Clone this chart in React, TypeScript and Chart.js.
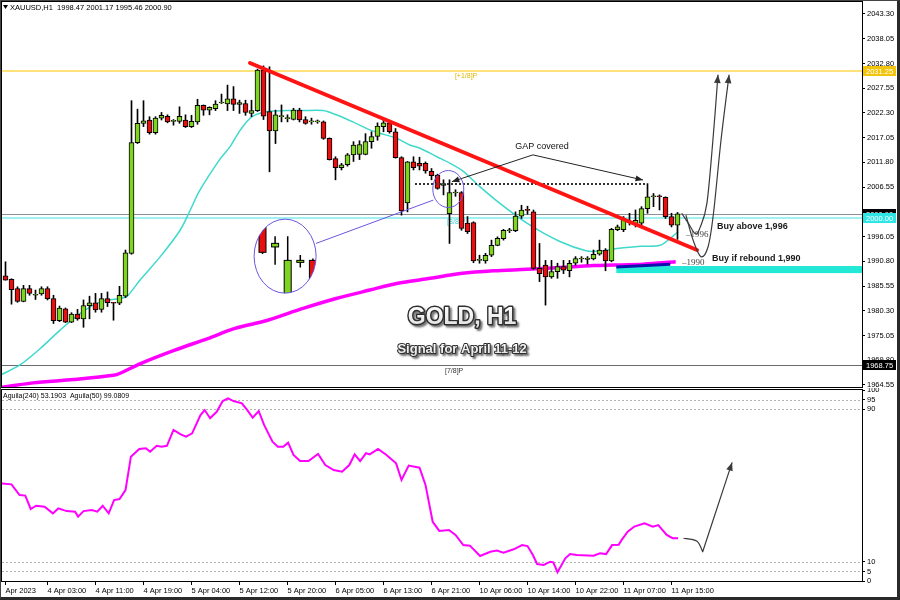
import React, { useEffect, useRef } from "react";
import { Chart, registerables } from "chart.js";

Chart.register(...registerables);

// ---------------- data ----------------
const OPEN = [
  1987.7, 1987.0, 1985.0, 1982.3, 1985.0, 1983.6, 1983.9, 1985.0, 1982.9, 1978.2,
  1980.7, 1977.9, 1979.6, 1978.6, 1981.4, 1982.0, 1980.6, 1982.9, 1982.0, 1981.9,
  1983.4, 1992.5, 2016.0, 2020.1, 2020.8, 2018.1, 2021.2, 2021.6, 2020.5, 2020.5,
  2020.8, 2019.4, 2020.4, 2023.9, 2022.9, 2023.2, 2024.4, 2024.2, 2025.3, 2024.1,
  2024.3, 2022.2, 2022.8, 2031.4, 2022.6, 2018.5, 2021.5, 2021.1, 2020.9, 2022.9,
  2020.9, 2020.4, 2020.4, 2020.4, 2016.9, 2012.6, 2010.7, 2011.3, 2013.4, 2013.5,
  2013.5, 2016.2, 2017.3, 2019.4, 2020.2, 2018.3, 2012.8, 2003.2, 2011.9, 2011.6,
  2011.6, 2009.9, 2009.1, 2006.9, 2000.9, 2005.3, 2005.4, 1998.9, 1999.0, 1991.0,
  1990.9, 1992.1, 1994.2, 1995.6, 1997.3, 1997.3, 2000.4, 2001.7, 2001.3, 1989.3,
  1990.0, 1987.5, 1988.6, 1989.7, 1988.8, 1990.4, 1991.3, 1991.2, 1991.3, 1992.3,
  1993.2, 1990.9, 1997.5, 1997.5, 1999.0, 1998.7, 1998.9, 2002.0, 2004.5, 2004.6,
  2004.4, 2000.3, 1998.47,
];
const HIGH = [
  1990.7, 1987.1, 1985.4, 1985.7, 1985.7, 1984.7, 1985.4, 1985.4, 1983.6, 1981.3,
  1980.9, 1979.9, 1980.6, 1982.6, 1983.4, 1984.0, 1984.0, 1984.3, 1982.1, 1985.5,
  1993.2, 2024.9, 2023.1, 2024.9, 2021.5, 2021.5, 2022.4, 2021.9, 2020.9, 2023.6,
  2021.9, 2021.8, 2025.2, 2024.0, 2023.6, 2024.9, 2026.3, 2028.2, 2027.9, 2025.0,
  2025.0, 2025.0, 2031.6, 2032.3, 2032.1, 2022.9, 2024.0, 2021.9, 2023.3, 2023.3,
  2021.5, 2021.2, 2020.8, 2020.6, 2017.0, 2013.0, 2011.6, 2013.7, 2016.2, 2016.4,
  2017.9, 2018.3, 2020.2, 2020.8, 2020.7, 2019.0, 2013.0, 2012.0, 2013.0, 2012.9,
  2011.9, 2010.5, 2009.3, 2008.1, 2008.1, 2006.0, 2005.6, 2000.3, 1999.2, 1992.1,
  1992.5, 1995.3, 1996.0, 1997.6, 1997.8, 2001.3, 2002.7, 2002.5, 2001.7, 1994.6,
  1991.0, 1991.0, 1990.4, 1991.0, 1991.0, 1991.8, 1991.8, 1991.8, 1993.2, 1995.3,
  1993.5, 1997.8, 1998.5, 2000.3, 2001.0, 2001.7, 2002.4, 2007.3, 2005.2, 2004.9,
  2004.5, 2001.0, 2001.17,
];
const LOW = [
  1986.8, 1981.7, 1982.1, 1982.2, 1983.6, 1982.7, 1983.6, 1982.6, 1977.6, 1978.0,
  1977.8, 1977.8, 1978.3, 1976.8, 1978.6, 1980.0, 1980.0, 1981.2, 1978.3, 1981.6,
  1983.1, 1992.3, 2015.8, 2019.4, 2017.8, 2017.8, 2020.8, 2020.2, 2019.7, 2020.1,
  2019.2, 2019.2, 2019.9, 2021.8, 2021.9, 2022.8, 2024.3, 2022.8, 2022.8, 2022.2,
  2021.8, 2021.5, 2022.6, 2020.9, 2009.8, 2015.8, 2020.4, 2020.4, 2020.8, 2020.4,
  2019.9, 2019.9, 2020.1, 2016.7, 2012.3, 2008.1, 2010.2, 2011.0, 2012.0, 2012.4,
  2013.4, 2014.8, 2016.5, 2018.3, 2018.0, 2012.7, 2000.6, 2001.3, 2010.2, 2010.2,
  2009.5, 2008.1, 2006.1, 2004.9, 1994.6, 2004.6, 1997.4, 1996.7, 1990.5, 1990.4,
  1990.4, 1991.8, 1994.1, 1995.3, 1996.9, 1997.1, 1999.9, 2000.8, 1989.1, 1986.5,
  1981.5, 1987.2, 1987.2, 1988.2, 1987.5, 1990.0, 1990.6, 1990.2, 1991.1, 1992.1,
  1988.8, 1990.7, 1997.3, 1997.1, 1998.5, 1998.1, 1998.5, 2001.0, 2002.4, 2001.7,
  1999.9, 1998.1, 1995.46,
];
const CLOSE = [
  1986.8, 1984.8, 1982.3, 1985.0, 1984.0, 1983.8, 1985.0, 1982.9, 1978.2, 1980.9,
  1977.9, 1979.6, 1978.6, 1981.4, 1982.0, 1980.5, 1982.9, 1982.0, 1981.9, 1983.6,
  1992.6, 2016.0, 2020.1, 2020.6, 2018.1, 2021.2, 2021.8, 2020.4, 2020.6, 2021.6,
  2019.4, 2020.5, 2023.9, 2022.9, 2023.5, 2024.2, 2024.5, 2025.3, 2024.1, 2024.5,
  2022.4, 2022.8, 2031.4, 2021.6, 2018.5, 2021.9, 2021.6, 2021.2, 2022.9, 2020.8,
  2020.1, 2020.5, 2020.4, 2016.9, 2012.4, 2010.7, 2011.3, 2013.4, 2015.5, 2015.6,
  2016.2, 2017.3, 2019.5, 2020.2, 2018.3, 2012.8, 2001.5, 2011.9, 2010.7, 2011.0,
  2010.0, 2009.0, 2006.3, 2007.3, 2005.4, 2005.4, 1997.8, 1997.1, 1990.9, 1991.1,
  1992.1, 1994.2, 1995.7, 1997.4, 1997.4, 2000.4, 2001.7, 2001.6, 1989.3, 1988.2,
  1987.5, 1988.6, 1989.7, 1988.9, 1990.4, 1991.4, 1991.3, 1991.5, 1992.3, 1993.2,
  1990.9, 1997.6, 1998.1, 1999.7, 1999.1, 1999.5, 2002.0, 2004.5, 2004.6, 2004.5,
  2000.3, 1998.5, 2000.90,
];

// fast moving average (cyan), read at bar positions
const MA_FAST_X = [-0.9, 2.4, 5.8, 9.1, 12.4, 15.8, 19.0, 20.2, 22.4, 25.8, 29.1, 30.8, 32.4, 35.8, 37.4, 39.1,
  41.1, 43.7, 46.8, 49.6, 52.9, 55.1, 57.9, 60.7, 62.4, 65.2, 67.4, 69.1, 71.9, 74.1, 76.3, 79.1, 82.4, 86.9,
  92.4, 96.9, 99.1, 101.9, 105.8, 109.1, 111.3, 112.1];
const MA_FAST_Y = [1966.6, 1968.8, 1972.3, 1976.2, 1979.7, 1982.2, 1982.9, 1983.3, 1986.8, 1991.8, 1997.4, 2001.7,
  2005.9, 2012.6, 2015.1, 2018.6, 2021.5, 2022.6, 2022.8, 2022.8, 2022.8, 2021.9, 2020.4, 2018.7, 2018.0, 2016.9,
  2015.5, 2014.8, 2013.0, 2011.6, 2009.9, 2006.6, 2003.1, 1998.9, 1995.0, 1993.0, 1993.0, 1993.5, 1994.0, 1994.2,
  1996.2, 1997.1];

// slow moving average (magenta)
const MA_SLOW_X = [-0.9, 4.6, 11.3, 18.0, 19.2, 22.5, 28.1, 33.7, 38.1, 43.7, 49.6, 55.1, 60.7, 65.2, 70.8, 75.8,
  81.3, 86.9, 92.4, 98.1, 101.3, 106.3, 111.7];
const MA_SLOW_Y = [1964.0, 1965.0, 1965.7, 1966.6, 1967.1, 1969.1, 1971.9, 1974.4, 1976.5, 1978.3, 1980.8, 1982.9,
  1984.7, 1986.1, 1987.2, 1988.2, 1988.8, 1989.1, 1989.5, 1989.9, 1990.0, 1990.2, 1990.7];

// Aguila oscillator (lower panel)
const IND_X = [-0.9, 1.0, 2.35, 3.3, 4.2, 5.1, 6.5, 7.9, 8.8, 10.2, 11.6, 12.1, 13.0, 14.4, 15.3, 16.2, 17.2, 18.1,
  19.0, 20.0, 20.9, 22.3, 23.4, 24.1, 25.2, 26.0, 26.9, 28.0, 29.2, 30.1, 31.1, 32.5, 33.2, 34.1, 35.2, 36.2, 37.1,
  38.0, 39.4, 40.3, 41.2, 42.2, 43.1, 44.5, 45.4, 46.3, 47.1, 48.0, 49.1, 50.5, 52.1, 53.3, 54.7, 56.1, 57.3, 58.2,
  59.1, 60.1, 60.7, 62.1, 63.5, 65.1, 66.0, 67.2, 69.0, 70.0, 71.2, 72.3, 73.9, 75.0, 76.3, 77.4, 79.1, 80.8, 81.9,
  83.0, 84.7, 86.1, 87.0, 87.9, 88.6, 89.7, 90.8, 91.3, 92.0, 93.3, 94.1, 95.2, 98.0, 99.1, 100.1, 101.1, 102.2,
  102.7, 103.7, 104.8, 106.5, 107.9, 108.8, 110.2, 111.2, 112.1];
const IND_Y = [51.2, 50.6, 45.0, 44.7, 37.7, 39.4, 38.9, 35.4, 38.0, 36.6, 36.3, 33.7, 36.6, 37.2, 36.3, 39.4, 35.4,
  42.4, 42.9, 47.6, 65.1, 69.1, 69.5, 67.7, 70.8, 70.3, 70.8, 79.1, 76.8, 75.6, 77.3, 86.9, 89.5, 85.2, 88.6, 94.2,
  95.6, 94.2, 93.0, 89.5, 85.5, 89.0, 81.7, 72.9, 70.3, 70.3, 72.4, 66.0, 62.8, 62.8, 66.5, 60.7, 58.1, 57.2, 60.7,
  66.3, 62.8, 66.9, 66.3, 69.1, 66.0, 61.6, 52.9, 60.4, 59.3, 50.3, 31.0, 26.2, 26.7, 24.1, 18.8, 18.5, 13.1, 15.3,
  15.9, 14.8, 16.6, 18.8, 18.3, 13.6, 8.9, 8.4, 10.1, 9.8, 4.6, 11.9, 14.1, 13.6, 13.2, 14.5, 14.1, 18.8, 19.0,
  21.5, 25.8, 28.5, 30.2, 28.4, 29.3, 24.1, 22.4, 22.4];

const PRICE_TICKS = [2043.30, 2038.05, 2032.80, 2027.55, 2022.30, 2017.05, 2011.80, 2006.55, 2001.30, 1996.05,
  1990.80, 1985.55, 1980.30, 1975.05, 1969.80, 1964.55];
const IND_TICKS = [100, 95, 90, 10, 5, 0];
const IND_DOTTED = [95, 90, 10, 5];
const TIME_TICK_INDEX = [0, 7, 15, 23, 31, 39, 47, 55, 63, 71, 79, 87, 95, 103, 111];
const TIME_TICK_LABELS = ["Apr 2023", "4 Apr 03:00", "4 Apr 11:00", "4 Apr 19:00", "5 Apr 04:00", "5 Apr 12:00",
  "5 Apr 20:00", "6 Apr 05:00", "6 Apr 13:00", "6 Apr 21:00", "10 Apr 06:00", "10 Apr 14:00", "10 Apr 22:00",
  "11 Apr 07:00", "11 Apr 15:00"];

// levels & annotations (bar index, price)
const LEVEL_YELLOW = 2031.25;
const LEVEL_BID = 2000.90;
const LEVEL_CYAN = 2000.00;
const LEVEL_LOW = 1968.75;
const ZONE = [101.8, 142.75, 1989.8, 1988.3];
const BLUE_SEG = [[101.8, 1989.6], [110.8, 1990.2]];
const TREND = [[40.75, 2032.9], [115.25, 1993.2]];
const GAP_DOTS = [68.25, 106.75, 2007.2];
const GAP_TEXT = [89.4, 2015.2];
const GAP_APEX = [87.9, 2013.4];
const GAP_LEFT = [74.4, 2007.7];
const GAP_RIGHT = [106.25, 2008.06];
const SMALL_RING = [73.8, 2006.15];
const BIG_RING = [46.6, 1991.9];
const RING_LINK = [[51.75, 1994.6], [71.3, 2003.8]];
const ZOOM_BARS = [72, 73, 74, 75, 76];
const ZOOM_ANCHOR = [73, 2007.1];
const CURVE_INNER = [[112.7, 2001.0], [113.8, 1998.9], [115.0, 1996.6], [115.8, 1998.1], [116.9, 2003.1],
  [117.9, 2016.5], [118.75, 2030.4]];
const CURVE_OUTER = [[113.4, 2000.6], [114.6, 1995.3], [115.9, 1991.8], [117.1, 1993.9], [118.0, 2001.0],
  [119.25, 2016.5], [120.6, 2030.4]];
const LOWER_ARROW = [[113.0, 22.4], [115.2, 20.9], [116.2, 15.3], [121.1, 62.1]];

const X_MIN = -0.5833;
const X_MAX = 142.75;
const FONT = "'Liberation Sans', Arial, sans-serif";
const GREEN = "#7fd321";
const RED = "#e61010";

// ---------------- helpers ----------------
function catmull(ctx: any, pts: any[]) {
  ctx.moveTo(pts[0].x, pts[0].y);
  for (let k = 0; k < pts.length - 1; k++) {
    const p0 = pts[Math.max(k - 1, 0)], p1 = pts[k], p2 = pts[k + 1], p3 = pts[Math.min(k + 2, pts.length - 1)];
    ctx.bezierCurveTo(p1.x + (p2.x - p0.x) / 6, p1.y + (p2.y - p0.y) / 6,
      p2.x - (p3.x - p1.x) / 6, p2.y - (p3.y - p1.y) / 6, p2.x, p2.y);
  }
}
function arrowHead(ctx: any, tip: any, from: any, size: number, color: string) {
  const a = Math.atan2(tip.y - from.y, tip.x - from.x);
  ctx.beginPath();
  ctx.moveTo(tip.x, tip.y);
  ctx.lineTo(tip.x - size * Math.cos(a - 0.38), tip.y - size * Math.sin(a - 0.38));
  ctx.lineTo(tip.x - size * Math.cos(a + 0.38), tip.y - size * Math.sin(a + 0.38));
  ctx.closePath();
  ctx.fillStyle = color;
  ctx.fill();
}
function emboss(ctx: any, text: string, x: number, y: number, size: number) {
  ctx.save();
  ctx.font = `bold ${size}px ${FONT}`;
  ctx.textAlign = "center";
  ctx.textBaseline = "middle";
  ctx.lineJoin = "round";
  ctx.shadowColor = "rgba(0,0,0,0.55)";
  ctx.shadowOffsetX = 2;
  ctx.shadowOffsetY = 2;
  ctx.shadowBlur = 2;
  ctx.strokeStyle = "#2e2e2e";
  ctx.lineWidth = Math.max(2, size / 8);
  ctx.strokeText(text, x, y);
  ctx.restore();
  ctx.save();
  ctx.font = `bold ${size}px ${FONT}`;
  ctx.textAlign = "center";
  ctx.textBaseline = "middle";
  const g = ctx.createLinearGradient(0, y - size / 2, 0, y + size / 2);
  g.addColorStop(0, "#ffffff");
  g.addColorStop(1, "#dcdcdc");
  ctx.fillStyle = g;
  ctx.fillText(text, x, y);
  ctx.restore();
}
function priceBox(ctx: any, y: number, text: string, bg: string, fg: string) {
  ctx.fillStyle = bg;
  ctx.fillRect(863, Math.round(y) - 5, 33, 10);
  ctx.fillStyle = fg;
  ctx.font = `7.5px ${FONT}`;
  ctx.textAlign = "left";
  ctx.textBaseline = "middle";
  ctx.fillText(text, 866, Math.round(y) + 0.5);
}

const topDecor = {
  id: "topDecor",
  beforeDatasetsDraw(chart: any) {
    const { ctx, chartArea: a, scales } = chart;
    const X = (v: number) => scales.x.getPixelForValue(v);
    const Y = (p: number) => scales.y.getPixelForValue(p);
    ctx.save();
    ctx.beginPath();
    ctx.rect(a.left, a.top, a.right - a.left, a.bottom - a.top);
    ctx.clip();
    // support zone
    ctx.fillStyle = "#22e8d6";
    ctx.fillRect(X(ZONE[0]), Y(ZONE[2]), X(ZONE[1]) - X(ZONE[0]), Y(ZONE[3]) - Y(ZONE[2]));
    const hline = (p: number, color: string, w: number) => {
      ctx.beginPath();
      ctx.strokeStyle = color;
      ctx.lineWidth = w;
      const y = Math.round(Y(p)) + (w % 2 ? 0.5 : 0);
      ctx.moveTo(a.left, y);
      ctx.lineTo(a.right, y);
      ctx.stroke();
    };
    hline(LEVEL_YELLOW, "#ffe27a", 2);
    hline(LEVEL_BID, "#8a8f99", 1);
    hline(LEVEL_CYAN, "#9ef2f2", 2);
    hline(LEVEL_LOW, "#6b6b6b", 1);
    ctx.font = `7px ${FONT}`;
    ctx.textAlign = "left";
    ctx.textBaseline = "middle";
    ctx.fillStyle = "#e2b400";
    ctx.fillText("[+1/8]P", X(74.9), Y(LEVEL_YELLOW) + 5);
    ctx.fillStyle = "#36d6d6";
    ctx.fillText("[8/8]P", X(73.6), Y(LEVEL_CYAN) + 4);
    ctx.fillStyle = "#333";
    ctx.fillText("[7/8]P", X(73.25), Y(LEVEL_LOW) + 6);
    ctx.restore();
  },
  afterDatasetsDraw(chart: any) {
    const { ctx, chartArea: a, scales } = chart;
    const X = (v: number) => scales.x.getPixelForValue(v);
    const Y = (p: number) => scales.y.getPixelForValue(p);
    const P = (q: number[]) => ({ x: X(q[0]), y: Y(q[1]) });
    ctx.save();
    ctx.beginPath();
    ctx.rect(a.left, a.top, a.right - a.left, a.bottom - a.top);
    ctx.clip();

    // blue segment on the slow MA
    ctx.beginPath();
    ctx.strokeStyle = "#1010b0";
    ctx.lineWidth = 3;
    ctx.moveTo(P(BLUE_SEG[0]).x, P(BLUE_SEG[0]).y);
    ctx.lineTo(P(BLUE_SEG[1]).x, P(BLUE_SEG[1]).y);
    ctx.stroke();

    // dotted gap line
    ctx.beginPath();
    ctx.setLineDash([2, 2]);
    ctx.strokeStyle = "#333";
    ctx.lineWidth = 2;
    ctx.moveTo(X(GAP_DOTS[0]), Math.round(Y(GAP_DOTS[2])));
    ctx.lineTo(X(GAP_DOTS[1]), Math.round(Y(GAP_DOTS[2])));
    ctx.stroke();
    ctx.setLineDash([]);

    // red trend line
    ctx.beginPath();
    ctx.strokeStyle = "#ff1414";
    ctx.lineWidth = 4;
    ctx.lineCap = "round";
    ctx.moveTo(P(TREND[0]).x, P(TREND[0]).y);
    ctx.lineTo(P(TREND[1]).x, P(TREND[1]).y);
    ctx.stroke();
    ctx.lineCap = "butt";

    // GAP covered
    const apex = P(GAP_APEX), gl = P(GAP_LEFT), gr = P(GAP_RIGHT);
    ctx.strokeStyle = "#222";
    ctx.lineWidth = 1;
    ctx.beginPath();
    ctx.moveTo(apex.x, apex.y);
    ctx.lineTo(gl.x, gl.y);
    ctx.moveTo(apex.x, apex.y);
    ctx.lineTo(gr.x, gr.y);
    ctx.stroke();
    arrowHead(ctx, gl, apex, 8, "#222");
    arrowHead(ctx, gr, apex, 8, "#222");
    ctx.font = `9px ${FONT}`;
    ctx.fillStyle = "#111";
    ctx.textAlign = "center";
    ctx.textBaseline = "middle";
    ctx.fillText("GAP covered", X(GAP_TEXT[0]), Y(GAP_TEXT[1]));

    // rings and link
    const sr = P(SMALL_RING), br = P(BIG_RING);
    const l0 = P(RING_LINK[0]), l1 = P(RING_LINK[1]);
    ctx.strokeStyle = "#6a55e0";
    ctx.lineWidth = 1;
    ctx.beginPath();
    ctx.moveTo(l0.x, l0.y);
    ctx.lineTo(l1.x, l1.y);
    ctx.stroke();
    ctx.beginPath();
    ctx.ellipse(sr.x, sr.y, 15.5, 18.5, 0, 0, Math.PI * 2);
    ctx.stroke();

    // magnified inset
    ctx.save();
    ctx.beginPath();
    ctx.ellipse(br.x, br.y, 31, 37, 0, 0, Math.PI * 2);
    ctx.fillStyle = "#fff";
    ctx.fill();
    ctx.clip();
    const ax = X(ZOOM_ANCHOR[0]), ay = Y(ZOOM_ANCHOR[1]);
    const ox = br.x - 10, oy = br.y - 11;
    const M = (i: number, p: number) => ({ x: ox + 2.1 * (X(i) - ax), y: oy + 1.9 * (Y(p) - ay) });
    for (const i of ZOOM_BARS) {
      const hi = M(i, HIGH[i]), lo = M(i, LOW[i]);
      ctx.beginPath();
      ctx.strokeStyle = "#000";
      ctx.lineWidth = 1.5;
      ctx.moveTo(hi.x, hi.y);
      ctx.lineTo(lo.x, lo.y);
      ctx.stroke();
      const t = M(i, Math.max(OPEN[i], CLOSE[i])), b = M(i, Math.min(OPEN[i], CLOSE[i]));
      const h = Math.max(2, b.y - t.y);
      ctx.fillStyle = CLOSE[i] >= OPEN[i] ? GREEN : RED;
      ctx.fillRect(t.x - 3.5, t.y, 7, h);
      ctx.lineWidth = 1;
      ctx.strokeRect(t.x - 3.5, t.y, 7, h);
    }
    ctx.restore();
    ctx.strokeStyle = "#6a55e0";
    ctx.lineWidth = 1;
    ctx.beginPath();
    ctx.ellipse(br.x, br.y, 31, 37, 0, 0, Math.PI * 2);
    ctx.stroke();

    // hand-drawn scenario arrows
    for (const c of [CURVE_INNER, CURVE_OUTER]) {
      const pts = c.map(P);
      ctx.beginPath();
      ctx.strokeStyle = "#3a3a3a";
      ctx.lineWidth = 1.2;
      catmull(ctx, pts);
      ctx.stroke();
      arrowHead(ctx, pts[pts.length - 1], pts[pts.length - 2], 9, "#3a3a3a");
    }

    // level labels
    ctx.font = `9px 'Liberation Serif', 'Times New Roman', serif`;
    ctx.fillStyle = "#444";
    ctx.textAlign = "left";
    ctx.textBaseline = "middle";
    ctx.fillText("\u20131996", X(113.4), Y(1996.4));
    ctx.fillText("\u20131990", X(112.75), Y(1990.5));
    ctx.font = `bold 9px ${FONT}`;
    ctx.fillStyle = "#1a1a1a";
    ctx.fillText("Buy above 1,996", X(118.6), Y(1998.1));
    ctx.fillText("Buy if rebound 1,990", X(117.75), Y(1991.3));
    ctx.restore();

    // title
    emboss(ctx, "GOLD, H1", X(76.1), Y(1978.8), 23);
    emboss(ctx, "Signal for April 11-12", X(76.1), Y(1972.0), 13);
  },
  afterDraw(chart: any) {
    const { ctx, chartArea: a, scales } = chart;
    const Y = (p: number) => scales.y.getPixelForValue(p);
    ctx.save();
    ctx.strokeStyle = "#000";
    ctx.lineWidth = 1;
    ctx.strokeRect(a.left - 0.5, a.top - 0.5, a.right - a.left + 1, a.bottom - a.top + 1);
    priceBox(ctx, Y(LEVEL_YELLOW), "2031.25", "#f2c40c", "#fff");
    priceBox(ctx, Y(LEVEL_BID), "2000.90", "#000", "#fff");
    priceBox(ctx, Y(LEVEL_CYAN), "2000.00", "#2ee6e6", "#fff");
    priceBox(ctx, Y(LEVEL_LOW), "1968.75", "#000", "#fff");
    // header
    ctx.fillStyle = "#000";
    ctx.beginPath();
    ctx.moveTo(3, 5);
    ctx.lineTo(8, 5);
    ctx.lineTo(5.5, 9);
    ctx.closePath();
    ctx.fill();
    ctx.font = `7.5px ${FONT}`;
    ctx.textAlign = "left";
    ctx.textBaseline = "middle";
    ctx.fillText("XAUUSD,H1  1998.47 2001.17 1995.46 2000.90", 10, 7.5);
    ctx.restore();
  },
};

const bottomDecor = {
  id: "bottomDecor",
  beforeDatasetsDraw(chart: any) {
    const { ctx, chartArea: a, scales } = chart;
    ctx.save();
    ctx.strokeStyle = "#b4b4b4";
    ctx.lineWidth = 1;
    ctx.setLineDash([2, 2]);
    for (const v of IND_DOTTED) {
      const y = Math.round(scales.y.getPixelForValue(v)) + 0.5;
      ctx.beginPath();
      ctx.moveTo(a.left, y);
      ctx.lineTo(a.right, y);
      ctx.stroke();
    }
    ctx.restore();
  },
  afterDatasetsDraw(chart: any) {
    const { ctx, scales } = chart;
    const P = (q: number[]) => ({ x: scales.x.getPixelForValue(q[0]), y: scales.y.getPixelForValue(q[1]) });
    const pts = LOWER_ARROW.map(P);
    ctx.save();
    ctx.strokeStyle = "#3a3a3a";
    ctx.lineWidth = 1.2;
    ctx.lineJoin = "round";
    ctx.beginPath();
    catmull(ctx, pts.slice(0, 3));
    ctx.lineTo(pts[3].x, pts[3].y);
    ctx.stroke();
    arrowHead(ctx, pts[3], pts[2], 9, "#3a3a3a");
    ctx.restore();
  },
  afterDraw(chart: any) {
    const { ctx, chartArea: a } = chart;
    ctx.save();
    ctx.strokeStyle = "#000";
    ctx.lineWidth = 1;
    ctx.strokeRect(a.left - 0.5, a.top - 0.5, a.right - a.left + 1, a.bottom - a.top + 1);
    ctx.fillStyle = "#000";
    ctx.font = `7px ${FONT}`;
    ctx.textAlign = "left";
    ctx.textBaseline = "middle";
    ctx.fillText("Aguila(240) 53.1903  Aguila(50) 99.0809", 3, a.top + 6);
    ctx.restore();
  },
};

const zeroPad = (ax: any) => {
  ax.paddingTop = 0;
  ax.paddingBottom = 0;
  ax.paddingLeft = 0;
  ax.paddingRight = 0;
};

export default function App() {
  const topRef = useRef<HTMLCanvasElement>(null);
  const botRef = useRef<HTMLCanvasElement>(null);

  useEffect(() => {
    Chart.defaults.font.family = FONT;
    Chart.defaults.color = "#000";
    const bodyData = OPEN.map((o, i) => ({ x: i, y: [o, CLOSE[i]] }));
    const wickData = LOW.map((l, i) => ({ x: i, y: [l, HIGH[i]] }));
    const bodyColors = OPEN.map((o, i) => (CLOSE[i] >= o ? GREEN : RED));

    const top = new Chart(topRef.current as HTMLCanvasElement, {
      type: "bar",
      data: {
        datasets: [
          {
            type: "bar",
            data: bodyData as any,
            backgroundColor: bodyColors,
            borderColor: "#000",
            borderWidth: 1,
            borderSkipped: false,
            barThickness: 5,
            minBarLength: 1,
            grouped: false,
            order: 0,
          } as any,
          {
            type: "bar",
            data: wickData as any,
            backgroundColor: "#000",
            borderWidth: 0,
            barThickness: 1,
            grouped: false,
            order: 1,
          } as any,
          {
            type: "line",
            data: MA_FAST_X.map((x, k) => ({ x, y: MA_FAST_Y[k] })) as any,
            borderColor: "#3fd9cc",
            borderWidth: 1.5,
            pointRadius: 0,
            tension: 0.3,
            order: 2,
          } as any,
          {
            type: "line",
            data: MA_SLOW_X.map((x, k) => ({ x, y: MA_SLOW_Y[k] })) as any,
            borderColor: "#ff00ff",
            borderWidth: 3.5,
            pointRadius: 0,
            tension: 0.3,
            order: 3,
          } as any,
        ],
      },
      options: {
        animation: false,
        responsive: false,
        devicePixelRatio: 1,
        events: [],
        layout: { padding: { left: 2, top: 2, right: 0, bottom: 3 } },
        plugins: { legend: { display: false }, tooltip: { enabled: false } },
        scales: {
          x: { type: "linear", min: X_MIN, max: X_MAX, display: false, offset: false },
          y: {
            type: "linear",
            position: "right",
            min: 1964.125,
            max: 2045.847,
            afterBuildTicks: (ax: any) => {
              ax.ticks = PRICE_TICKS.map((v) => ({ value: v }));
            },
            afterFit: (ax: any) => {
              ax.width = 38;
              zeroPad(ax);
            },
            ticks: {
              callback: (v: any) => Number(v).toFixed(2),
              font: { family: FONT, size: 7.5 },
              color: "#000",
              padding: 2,
              autoSkip: false,
            },
            grid: { drawOnChartArea: false, drawTicks: true, tickLength: 3, color: "#000" },
            border: { display: true, color: "#000" },
          },
        },
      } as any,
      plugins: [topDecor],
    });

    const bottom = new Chart(botRef.current as HTMLCanvasElement, {
      type: "line",
      data: {
        datasets: [
          {
            data: IND_X.map((x, k) => ({ x, y: IND_Y[k] })) as any,
            borderColor: "#ff00ff",
            borderWidth: 2,
            pointRadius: 0,
            tension: 0,
          },
        ],
      },
      options: {
        animation: false,
        responsive: false,
        devicePixelRatio: 1,
        events: [],
        layout: { padding: { left: 2, top: 2, right: 0, bottom: 0 } },
        plugins: { legend: { display: false }, tooltip: { enabled: false } },
        scales: {
          x: {
            type: "linear",
            min: X_MIN,
            max: X_MAX,
            offset: false,
            position: "bottom",
            afterBuildTicks: (ax: any) => {
              ax.ticks = TIME_TICK_INDEX.map((v) => ({ value: v }));
            },
            afterFit: (ax: any) => {
              ax.height = 19;
              zeroPad(ax);
            },
            ticks: {
              callback: (v: any) => {
                const k = TIME_TICK_INDEX.indexOf(Number(v));
                return k >= 0 ? TIME_TICK_LABELS[k] : "";
              },
              align: "start",
              maxRotation: 0,
              minRotation: 0,
              autoSkip: false,
              font: { family: FONT, size: 7.5 },
              color: "#000",
              padding: 1,
            },
            grid: { drawOnChartArea: false, drawTicks: true, tickLength: 4, color: "#000" },
            border: { display: true, color: "#000" },
          },
          y: {
            type: "linear",
            position: "right",
            min: 0,
            max: 100,
            afterBuildTicks: (ax: any) => {
              ax.ticks = IND_TICKS.map((v) => ({ value: v }));
            },
            afterFit: (ax: any) => {
              ax.width = 38;
              zeroPad(ax);
            },
            ticks: {
              callback: (v: any) => String(v),
              font: { family: FONT, size: 7.5 },
              color: "#000",
              padding: 2,
              autoSkip: false,
            },
            grid: { drawOnChartArea: false, drawTicks: true, tickLength: 3, color: "#000" },
            border: { display: true, color: "#000" },
          },
        },
      } as any,
      plugins: [bottomDecor],
    });

    return () => {
      top.destroy();
      bottom.destroy();
    };
  }, []);

  return (
    <div style={{ position: "absolute", left: 0, top: 0, width: 900, height: 600, background: "#fff", overflow: "hidden" }}>
      <canvas ref={botRef} width={900} height={212} style={{ position: "absolute", left: 0, top: 388, width: 900, height: 212 }} />
      <canvas ref={topRef} width={900} height={390} style={{ position: "absolute", left: 0, top: 0, width: 900, height: 390 }} />
      <div
        style={{
          position: "absolute",
          left: 0,
          top: 0,
          width: 900,
          height: 600,
          boxSizing: "border-box",
          borderLeft: "1px solid #444",
          borderTop: "1px solid #444",
          borderRight: "3px solid #2a2a2a",
          borderBottom: "3px solid #2a2a2a",
          pointerEvents: "none",
        }}
      />
    </div>
  );
}
